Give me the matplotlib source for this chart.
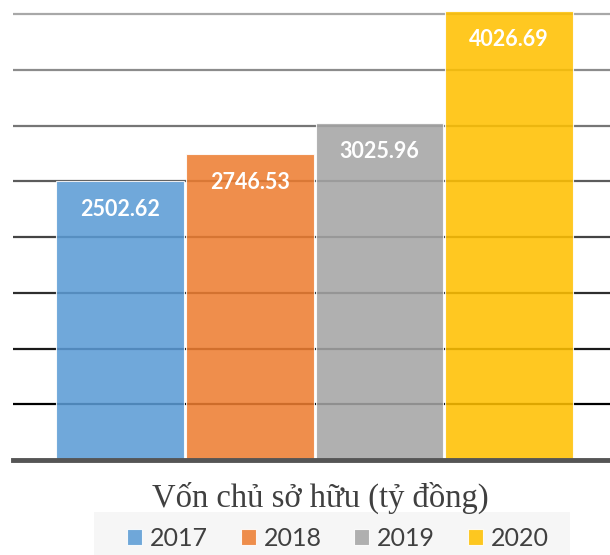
import matplotlib.pyplot as plt
from matplotlib.patches import Rectangle

years = ["2017", "2018", "2019", "2020"]
equity = [2502.62, 2746.53, 3025.96, 4026.69]
colors = ["#5b9bd5", "#ed7d31", "#a5a5a5", "#ffc000"]
grid_levels = [500, 1000, 1500, 2000, 2500, 3000, 3500, 4000]
grid_colors = ["#000000", "#1a1a1a", "#2e2e2e", "#444444", "#5c5c5c", "#767676", "#8c8c8c", "#a8a8a8"]
title = "Vốn chủ sở hữu (tỷ đồng)"

W, H = 610, 555
fig = plt.figure(figsize=(W / 100, H / 100), dpi=100)
ax = fig.add_axes([13 / W, 1 - 460 / H, 1 - 13 / W, 460 / H])

# gridlines fade from black at the bottom to light grey at the top
for level, col in zip(grid_levels, grid_colors):
    ax.axhline(level, color=col, linewidth=1.6, zorder=1)

x = range(len(years))
bars = ax.bar(x, equity, width=0.985, color=colors, alpha=0.87,
              edgecolor="#ffffff", linewidth=0.8, zorder=2)
ax.axhline(0, color="#555555", linewidth=3.5, zorder=3, clip_on=False)

for rect, val in zip(bars, equity):
    ax.annotate(f"{val:.2f}", (rect.get_x() + rect.get_width() / 2, val),
                xytext=(0, -20.5), textcoords="offset points", ha="center", va="center",
                color="white", fontsize=15.5, fontweight="bold", family="Lato", zorder=4)

ax.set_xlim(-0.825, 3.778)
ax.set_ylim(0, 4126)
ax.axis("off")

fig.text(320 / W, 1 - 498 / H, title, ha="center", va="center",
         family="Liberation Serif", fontsize=23.5, color="#404040")

fig.patches.append(Rectangle((94 / W, 0), (570 - 94) / W, (H - 512) / H,
                             transform=fig.transFigure, facecolor="#f6f6f6",
                             edgecolor="none", zorder=0))
handles = [Rectangle((0, 0), 1, 1, facecolor=c, alpha=0.87, edgecolor="#ffffff", linewidth=0.8)
           for c in colors]
fig.legend(handles, years, loc="center", bbox_to_anchor=(338 / W, 1 - 538 / H), ncol=4,
           frameon=False, handlelength=0.6, handleheight=0.6, handletextpad=0.32,
           columnspacing=1.3, prop={"family": "Lato", "size": 18}, labelcolor="#404040")

fig.savefig("out.png", dpi=100)
